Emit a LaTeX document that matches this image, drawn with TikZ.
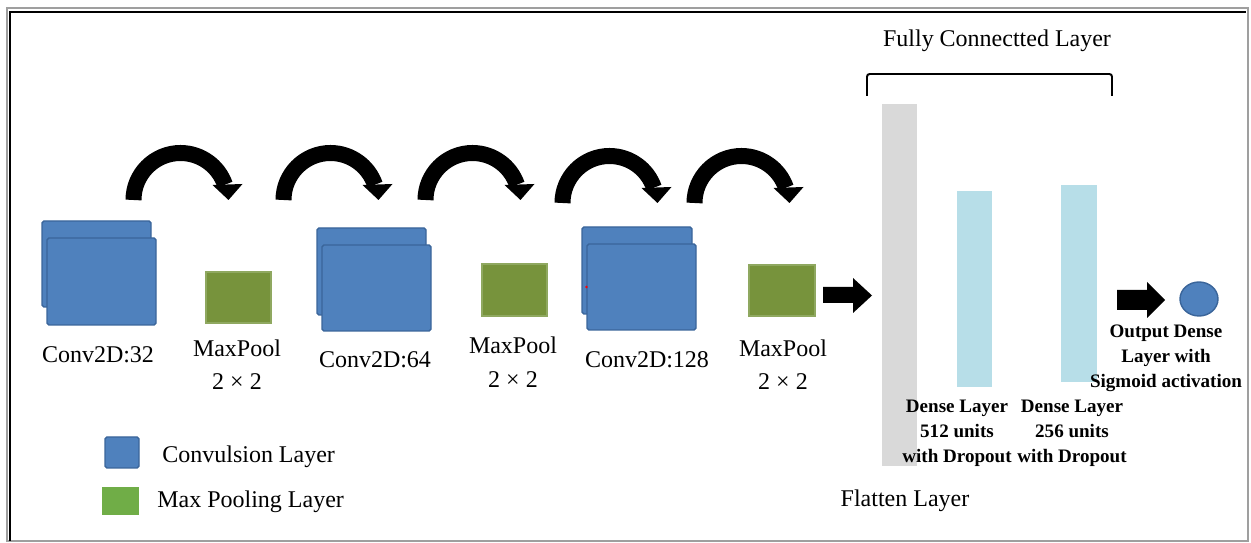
\documentclass[tikz,border=0pt]{standalone}
\usepackage{fontspec}
\setmainfont{Liberation Serif}
\usetikzlibrary{shapes.geometric}
\definecolor{convblue}{HTML}{4F81BD}
\definecolor{convedge}{HTML}{3A659A}
\definecolor{poolgreen}{HTML}{77933C}
\definecolor{pooledge}{HTML}{8FA860}
\definecolor{legendgreen}{HTML}{70AD47}
\definecolor{flatgray}{HTML}{D9D9D9}
\definecolor{densecyan}{HTML}{B7DEE8}
\newcommand\pxl{0.5669pt}
\newcommand\bendarrow[2]{%
  \begin{scope}[shift={(#1,#2)}]
    \draw[line width=16*\pxl] (0,0) arc[start angle=180,end angle=341,radius=47];
    \fill (79,-15) -- (109,-16) -- (95,0) -- cycle;
  \end{scope}}
\tikzset{
  conv/.style={draw=convedge, fill=convblue, line width=0.8pt, rounded corners=1pt, inner sep=0pt},
  pool/.style={draw=pooledge, fill=poolgreen, line width=0.6pt, inner sep=0pt},
  bar/.style={inner sep=0pt, draw=none},
  lbl/.style={font=\fontsize{13.6}{16}\selectfont, anchor=base, inner sep=0pt},
  blbl/.style={font=\fontsize{10.8}{14.2}\selectfont\bfseries, align=center, inner sep=0pt},
}
\begin{document}
\begin{tikzpicture}[x=0.5669pt,y=-0.5669pt]
\useasboundingbox (0,0) rectangle (1251,543);
% frame
\draw[gray!75, line width=1.6pt] (7,8) rectangle (1248,541);
\draw[black, line width=1.4pt] (10,541) |- (1246,12);

% conv / pool blocks
\node[conv, minimum width=109*\pxl, minimum height=86*\pxl] (c1b) at (96.5,264) {};
\node[conv, minimum width=109*\pxl, minimum height=87*\pxl] (c1f) at (101.5,281.5) {};
\node[pool, minimum width=65*\pxl, minimum height=51*\pxl] (p1) at (238.5,297.5) {};
\node[conv, minimum width=109*\pxl, minimum height=87*\pxl] (c2b) at (371.5,271.5) {};
\node[conv, minimum width=109*\pxl, minimum height=86*\pxl] (c2f) at (376.5,288) {};
\node[pool, minimum width=65*\pxl, minimum height=52*\pxl] (p2) at (514.5,290) {};
\node[conv, minimum width=110*\pxl, minimum height=87*\pxl] (c3b) at (637,270.5) {};
\node[conv, minimum width=109*\pxl, minimum height=86*\pxl] (c3f) at (641.5,287) {};
\fill[red] (586.5,287) circle[radius=1.3];
\node[pool, minimum width=66*\pxl, minimum height=51*\pxl] (p3) at (782,290.5) {};

% labels
\node[lbl] (l1) at (98,363) {Conv2D:32};
\node[lbl] (l2) at (237,357) {MaxPool};
\node[lbl] (l2b) at (237,390) {2 × 2};
\node[lbl] (l3) at (375,368) {Conv2D:64};
\node[lbl] (l4) at (513,354) {MaxPool};
\node[lbl] (l4b) at (513,388) {2 × 2};
\node[lbl] (l5) at (647,368) {Conv2D:128};
\node[lbl] (l6) at (783,357) {MaxPool};
\node[lbl] (l6b) at (783,390) {2 × 2};

% curved arrows
\bendarrow{133.5}{200}
\bendarrow{283.5}{200}
\bendarrow{425.5}{200}
\bendarrow{562.5}{203}
\bendarrow{694.5}{203}

% block arrow into flatten
\fill (823,287) -- (853,287) -- (853,278) -- (872,295.5) -- (853,313) -- (853,303) -- (823,303) -- cycle;

% fully connected
\node[bar, fill=flatgray, minimum width=35*\pxl, minimum height=362*\pxl] (fl) at (899.5,285) {};
\node[bar, fill=densecyan, minimum width=35*\pxl, minimum height=196*\pxl] (d1) at (974.5,289) {};
\node[bar, fill=densecyan, minimum width=36*\pxl, minimum height=197*\pxl] (d2) at (1079,283.5) {};
\draw[line width=1.1pt, rounded corners=1.5pt] (867,96) |- (1112,74) -- (1112,96);
\node[lbl] (fc) at (997,47) {Fully Connectted Layer};
\node[lbl] (flt) at (905,507) {Flatten Layer};
\node[blbl] (dl1) at (957,433) {Dense Layer\\512 units\\with Dropout};
\node[blbl] (dl2) at (1072,433) {Dense Layer\\256 units\\with Dropout};

% output
\fill (1117,290) -- (1147,290) -- (1147,282) -- (1165,300) -- (1147,318) -- (1147,310) -- (1117,310) -- cycle;
\node[ellipse, draw=convedge, fill=convblue, line width=0.8pt, minimum width=38*\pxl, minimum height=34*\pxl, inner sep=0pt] (out) at (1199,299) {};
\node[blbl] (ol) at (1166,358) {Output Dense\\Layer with\\Sigmoid activation};

% legend
\node[conv, minimum width=34*\pxl, minimum height=31*\pxl] (lg1) at (122,452.5) {};
\node[lbl, anchor=base west] (lt1) at (162,463) {Convulsion Layer};
\node[bar, fill=legendgreen, minimum width=37*\pxl, minimum height=28*\pxl] (lg2) at (120.5,501) {};
\node[lbl, anchor=base west] (lt2) at (157,508) {Max Pooling Layer};
\end{tikzpicture}
\end{document}
